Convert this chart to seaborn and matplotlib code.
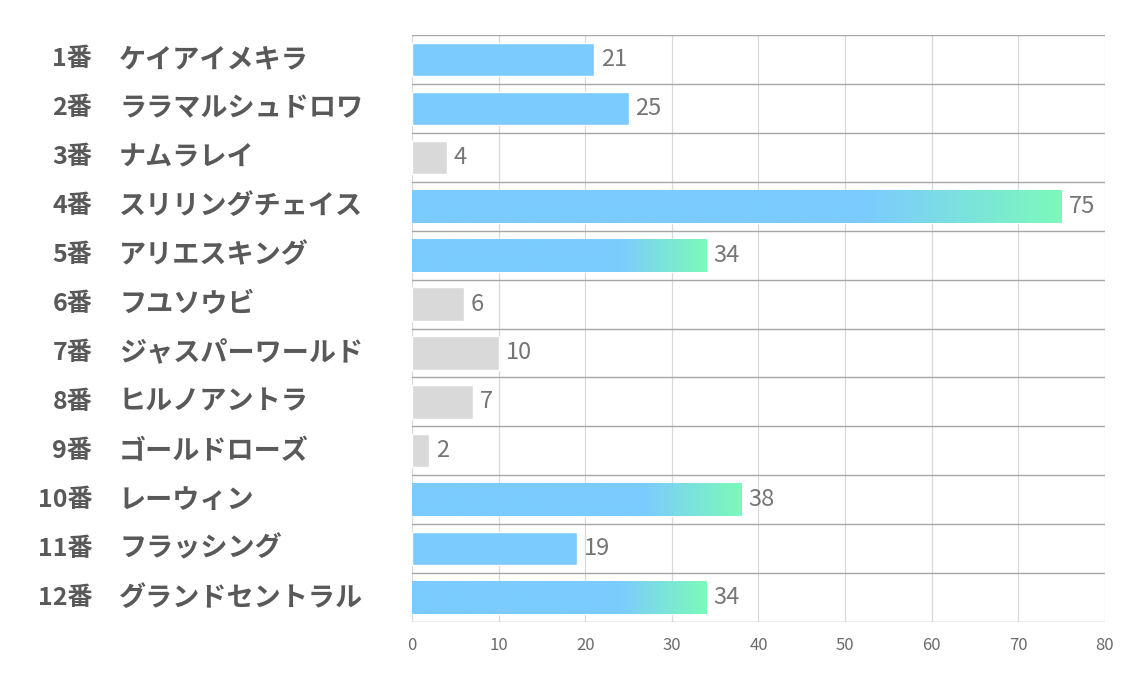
import numpy as np
import pandas as pd
import matplotlib
matplotlib.use("Agg")
import matplotlib.pyplot as plt
import matplotlib.transforms as mtransforms
from matplotlib.colors import LinearSegmentedColormap
import seaborn as sns

# datos
numeros = ['1番', '2番', '3番', '4番', '5番', '6番', '7番', '8番', '9番', '10番', '11番', '12番']
nombres = ['ケイアイメキラ', 'ララマルシュドロワ', 'ナムラレイ', 'スリリングチェイス', 'アリエスキング',
           'フユソウビ', 'ジャスパーワールド', 'ヒルノアントラ', 'ゴールドローズ', 'レーウィン',
           'フラッシング', 'グランドセントラル']
valores = [21, 25, 4, 75, 34, 6, 10, 7, 2, 38, 19, 34]
tipo = ['azul', 'azul', 'gris', 'grad', 'grad', 'gris', 'gris', 'gris', 'gris', 'grad', 'azul', 'grad']
xticks = [0, 10, 20, 30, 40, 50, 60, 70, 80]

AZUL = '#7BCBFF'
VERDE = '#7CF9BA'
GRIS = '#D9D9D9'
colores = {'azul': AZUL, 'grad': AZUL, 'gris': GRIS}

sns.set_style('white')
plt.rcParams['font.family'] = ['Noto Sans CJK JP', 'DejaVu Sans']

df = pd.DataFrame({'caballo': nombres, 'valor': valores, 'tipo': tipo})

fig = plt.figure(figsize=(11.34, 6.8), dpi=100)
ax = fig.add_axes([0.3633, 0.0853, 0.6111, 0.8632])

sns.barplot(data=df, x='valor', y='caballo', hue='tipo', palette=colores,
            width=0.68, dodge=False, legend=False, ax=ax, saturation=1, zorder=2)

# degradado en las barras 'grad': azul hasta ~70% de la barra, luego hacia verde
cmap_grad = LinearSegmentedColormap.from_list('gg', [AZUL, VERDE])
pos = np.linspace(0, 1, 256)
t = np.clip((pos - 0.70) / 0.30, 0, 1).reshape(1, -1)
for bar in ax.patches:
    w = bar.get_width()
    if w <= 0:
        continue
    y0 = bar.get_y()
    h = bar.get_height()
    i = int(round(y0 + h / 2))
    if tipo[i] != 'grad':
        continue
    im = ax.imshow(t, cmap=cmap_grad, extent=[0, w, y0 + h, y0], aspect='auto',
                   zorder=3, interpolation='bilinear')
    im.set_clip_path(bar)

ax.set_xlim(0, 80)
ax.set_ylim(len(valores) - 0.5, -0.5)
ax.set_xticks(xticks)
ax.set_xticklabels([str(v) for v in xticks], fontsize=12, color='#6b6b6b')
ax.tick_params(axis='x', length=0, pad=11)
ax.set_yticks([])
ax.set_xlabel('')
ax.set_ylabel('')

# rejilla
for v in xticks:
    ax.axvline(v, color='#D9D9D9', lw=0.9, zorder=1)
for k in range(len(valores) + 1):
    ax.axhline(k - 0.5, color='#A6A6A6', lw=1.0, zorder=1)
for s in ax.spines.values():
    s.set_visible(False)

# etiquetas de valor
for i, v in enumerate(valores):
    ax.text(v + 0.8, i, str(v), va='center', ha='left', fontsize=17, color='#757575', zorder=4)

# etiquetas de categoria
trans = mtransforms.blended_transform_factory(fig.transFigure, ax.transData)
for i, (n, nom) in enumerate(zip(numeros, nombres)):
    ax.text(92 / 1134, i, n, transform=trans, ha='right', va='center',
            fontsize=18, fontweight='bold', color='#595959')
    ax.text(119 / 1134, i, nom, transform=trans, ha='left', va='center',
            fontsize=19.5, fontweight='bold', color='#595959')

fig.savefig('out.png', dpi=100)
